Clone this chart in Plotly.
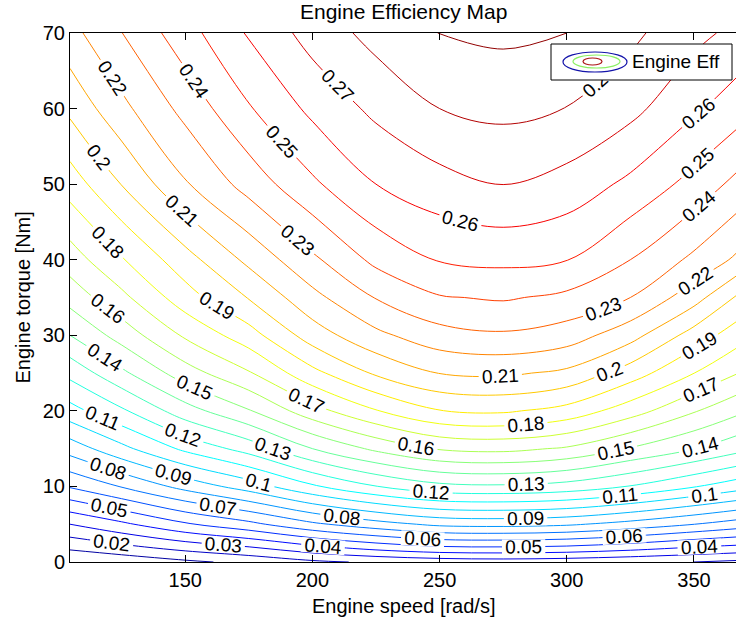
import plotly.graph_objects as go

# Engine speed grid [rad/s] (1000..3500 rpm) and torque grid [Nm]
speed = [104.72, 125, 150, 175, 200, 225, 250, 275, 300, 325, 350, 366.52]
torque = [0, 2, 5, 10, 15, 20, 25, 30, 35, 40, 50, 60, 70]

# Efficiency, one row per torque value
eff_t0 = [0.000, 0.003, 0.008, 0.0125, 0.018, 0.0215, 0.024, 0.025, 0.024, 0.022, 0.020, 0.018]
eff_t2 = [0.0125, 0.0176, 0.0243, 0.0299, 0.0380, 0.0446, 0.0493, 0.0500, 0.0488, 0.0451, 0.0403, 0.0380]
eff_t5 = [0.030, 0.0379, 0.0487, 0.0572, 0.0680, 0.0760, 0.0823, 0.0833, 0.0815, 0.0764, 0.0701, 0.0655]
eff_t10 = [0.061, 0.0706, 0.0835, 0.0948, 0.1085, 0.1197, 0.1272, 0.1285, 0.1261, 0.1195, 0.1107, 0.1047]
eff_t15 = [0.0843, 0.0972, 0.1122, 0.1241, 0.1400, 0.1522, 0.1611, 0.1627, 0.1588, 0.1493, 0.1403, 0.1336]
eff_t20 = [0.1063, 0.1183, 0.1356, 0.1492, 0.1660, 0.1794, 0.1898, 0.1914, 0.1865, 0.1746, 0.1609, 0.1526]
eff_t25 = [0.1230, 0.1378, 0.1554, 0.1690, 0.1870, 0.2015, 0.2103, 0.2117, 0.2079, 0.1950, 0.1801, 0.1706]
eff_t30 = [0.1400, 0.1542, 0.1715, 0.1857, 0.2050, 0.2176, 0.2262, 0.2287, 0.2252, 0.2139, 0.1957, 0.1850]
eff_t35 = [0.1539, 0.1674, 0.1856, 0.2006, 0.2170, 0.2305, 0.2393, 0.2411, 0.2378, 0.2300, 0.2143, 0.1991]
eff_t40 = [0.1650, 0.1791, 0.1960, 0.2125, 0.2280, 0.2426, 0.2507, 0.2524, 0.2503, 0.2400, 0.2278, 0.2184]
eff_t50 = [0.1847, 0.2003, 0.2190, 0.2340, 0.2482, 0.2600, 0.2664, 0.2701, 0.2663, 0.2577, 0.2465, 0.2374]
eff_t60 = [0.2024, 0.2173, 0.2331, 0.2491, 0.2624, 0.2724, 0.2800, 0.2826, 0.2798, 0.2729, 0.2617, 0.2549]
eff_t70 = [0.2167, 0.2298, 0.2460, 0.2611, 0.2740, 0.2834, 0.2902, 0.2920, 0.2900, 0.2823, 0.2729, 0.2675]

eff = [eff_t0, eff_t2, eff_t5, eff_t10, eff_t15, eff_t20, eff_t25,
       eff_t30, eff_t35, eff_t40, eff_t50, eff_t60, eff_t70]

x_ticks = [150, 200, 250, 300, 350]
y_ticks = [0, 10, 20, 30, 40, 50, 60, 70]

jet = [[0.0, "rgb(0,0,162)"], [0.096, "rgb(0,0,255)"], [0.359, "rgb(0,255,255)"],
       [0.623, "rgb(255,255,0)"], [0.886, "rgb(255,0,0)"], [1.0, "rgb(145,0,0)"]]

FONT = "Liberation Sans, Arial, Helvetica, sans-serif"

fig = go.Figure()
fig.add_trace(go.Contour(
    x=speed, y=torque, z=eff,
    colorscale=jet, showscale=False,
    contours=dict(start=0.01, end=0.2901, size=0.01, coloring="lines",
                  showlabels=True,
                  labelfont=dict(family=FONT, size=19, color="black"),
                  labelformat=".2~f"),
    line=dict(width=1),
    hoverinfo="skip",
))

fig.update_layout(
    width=736, height=624,
    margin=dict(l=70, r=0, t=33, b=62),
    paper_bgcolor="white", plot_bgcolor="white",
    showlegend=False,
    font=dict(family=FONT, size=20, color="black"),
)
fig.update_xaxes(range=[104.72, 366.52], tickvals=x_ticks, ticks="inside", ticklen=7,
                 tickcolor="black", showline=True, linecolor="black", linewidth=1,
                 mirror="ticks", showgrid=False, zeroline=False,
                 tickfont=dict(family=FONT, size=20, color="black"))
fig.update_yaxes(range=[0, 70], tickvals=y_ticks, ticks="inside", ticklen=7,
                 tickcolor="black", showline=True, linecolor="black", linewidth=1,
                 mirror=False, showgrid=False, zeroline=False,
                 tickfont=dict(family=FONT, size=20, color="black"))

def px_to_paper(px, py):
    return (px - 70) / 666.0, (562 - py) / 529.0

ann = []
_, ty = px_to_paper(403, 11)
ann.append(dict(text="Engine Efficiency Map", x=0.5, y=ty, xref="paper", yref="paper",
                xanchor="center", yanchor="middle", showarrow=False,
                font=dict(family=FONT, size=21, color="black")))
_, ay = px_to_paper(403, 606)
ann.append(dict(text="Engine speed [rad/s]", x=0.5, y=ay, xref="paper", yref="paper",
                xanchor="center", yanchor="middle", showarrow=False,
                font=dict(family=FONT, size=20, color="black")))
bx, _ = px_to_paper(22, 297)
ann.append(dict(text="Engine torque [Nm]", x=bx, y=0.5, xref="paper", yref="paper",
                xanchor="center", yanchor="middle", textangle=-90, showarrow=False,
                font=dict(family=FONT, size=20, color="black")))
lx, ly = px_to_paper(630, 62)
ann.append(dict(text="Engine Eff", x=lx, y=ly, xref="paper", yref="paper",
                xanchor="left", yanchor="middle", showarrow=False,
                font=dict(family=FONT, size=19, color="black")))
fig.update_layout(annotations=ann)

shapes = []
x0, y0 = px_to_paper(551, 80)
x1, y1 = px_to_paper(732, 44)
shapes.append(dict(type="rect", xref="paper", yref="paper", x0=x0, y0=y0, x1=x1, y1=y1,
                   line=dict(color="black", width=1), fillcolor="white", layer="above"))
for (l, t, r, b, col) in [(563, 52, 627, 72, "rgb(20,20,170)"),
                          (573, 55, 620, 68, "rgb(140,240,100)"),
                          (583, 58, 602, 65, "rgb(170,20,20)")]:
    ex0, ey0 = px_to_paper(l, b)
    ex1, ey1 = px_to_paper(r, t)
    shapes.append(dict(type="circle", xref="paper", yref="paper", x0=ex0, y0=ey0,
                       x1=ex1, y1=ey1, line=dict(color=col, width=1.2), layer="above"))
fig.update_layout(shapes=shapes)

fig.write_html("out.html", config={"displayModeBar": False},
               post_script="document.body.style.margin='0px';document.body.style.overflow='hidden';")
